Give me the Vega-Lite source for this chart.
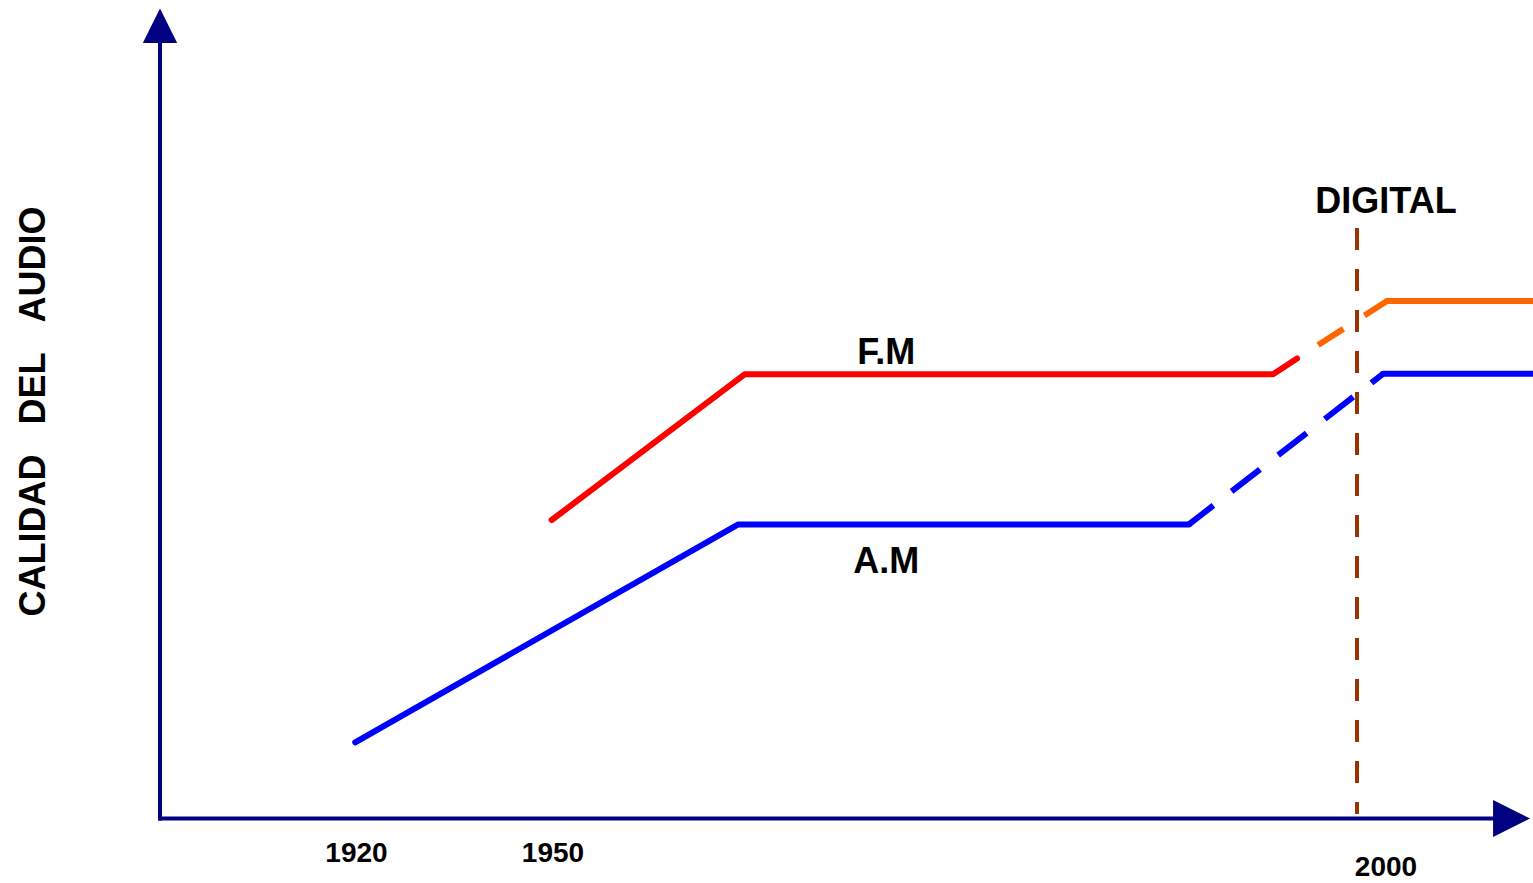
{
  "$schema": "https://vega.github.io/schema/vega-lite/v6.json",
  "width": 1533,
  "height": 883,
  "autosize": "none",
  "padding": 0,
  "background": "white",
  "config": {"view": {"stroke": null}, "text": {"font": "Liberation Sans", "fontWeight": "bold", "color": "black", "baseline": "alphabetic", "align": "center"}},
  "datasets": {
    "ejes": [
      {"eje": "x", "year": 1889.7, "year2": 2006.7, "q": 0, "q2": 0},
      {"eje": "y", "year": 1890, "year2": 1890, "q": -0.25, "q2": 96}
    ],
    "flechas": [
      {"eje": "x", "year": 2008.82, "q": 0},
      {"eje": "y", "year": 1890, "q": 100}
    ],
    "series": [
      {"serie": "AM_a", "year": 1919.8, "q": 9.41},
      {"serie": "AM_a", "year": 1961.12, "q": 36.3},
      {"serie": "AM_a", "year": 1988.17, "q": 36.3},
      {"serie": "AM_b", "year": 1988.17, "q": 36.3},
      {"serie": "AM_b", "year": 1999.82, "q": 54.9},
      {"serie": "AM_c", "year": 1999.82, "q": 54.9},
      {"serie": "AM_c", "year": 2009.5, "q": 54.9},
      {"serie": "FM_a", "year": 1949.8, "q": 36.85},
      {"serie": "FM_a", "year": 1961.52, "q": 54.85},
      {"serie": "FM_a", "year": 1993.22, "q": 54.85},
      {"serie": "FM_a", "year": 1994.66, "q": 56.79},
      {"serie": "FM_b", "year": 1994.66, "q": 56.79},
      {"serie": "FM_b", "year": 2000.06, "q": 63.89},
      {"serie": "FM_c", "year": 2000.06, "q": 63.89},
      {"serie": "FM_c", "year": 2009.5, "q": 63.89}
    ],
    "digital": [{"year": 1998.26, "q": 72.9, "q2": 0.56}],
    "rotulos": [
      {"label": "DIGITAL", "year": 2000, "q": 74.7},
      {"label": "F.M", "year": 1970, "q": 56.07},
      {"label": "A.M", "year": 1970, "q": 30.35}
    ],
    "anios": [
      {"label": "1920", "year": 1920, "q": -5.33},
      {"label": "1950", "year": 1950, "q": -5.33},
      {"label": "2000", "year": 2000, "q": -7.1}
    ],
    "titulo": [{"label": "CALIDAD\u00a0\u00a0\u00a0DEL\u00a0\u00a0\u00a0AUDIO", "year": 1872.44, "q": 50.25}]
  },
  "encoding": {
    "x": {"field": "year", "type": "quantitative", "axis": null,
      "scale": {"type": "linear", "domain": [1890, 1950, 2000, 2009], "range": [160, 553, 1386, 1533], "nice": false, "zero": false}},
    "y": {"field": "q", "type": "quantitative", "axis": null,
      "scale": {"domain": [0, 100], "range": [818.5, 8.5], "nice": false, "zero": false}}
  },
  "layer": [
    {
      "data": {"name": "digital"},
      "mark": {"type": "rule", "color": "#993300", "strokeWidth": 4, "strokeDash": [22, 19]},
      "encoding": {"y2": {"field": "q2"}}
    },
    {
      "data": {"name": "series"},
      "transform": [{"filter": "indexof(['AM_a','AM_c','FM_a','FM_c'], datum.serie) >= 0"}],
      "mark": {"type": "line", "strokeWidth": 6, "strokeCap": "round", "strokeJoin": "round"},
      "encoding": {
        "color": {"field": "serie", "type": "nominal", "legend": null,
          "scale": {"domain": ["AM_a", "AM_b", "AM_c", "FM_a", "FM_b", "FM_c"], "range": ["#0000FF", "#0000FF", "#0000FF", "#FF0000", "#FF6600", "#FF6600"]}}
      }
    },
    {
      "data": {"name": "series"},
      "transform": [{"filter": "datum.serie === 'AM_b'"}],
      "mark": {"type": "line", "strokeWidth": 6, "strokeCap": "butt", "strokeDash": [36, 23], "strokeDashOffset": 5},
      "encoding": {"color": {"field": "serie", "type": "nominal", "legend": null}}
    },
    {
      "data": {"name": "series"},
      "transform": [{"filter": "datum.serie === 'FM_b'"}],
      "mark": {"type": "line", "strokeWidth": 6, "strokeCap": "butt", "strokeDash": [30, 25], "strokeDashOffset": 30},
      "encoding": {"color": {"field": "serie", "type": "nominal", "legend": null}}
    },
    {
      "data": {"name": "ejes"},
      "mark": {"type": "rule", "color": "#000080", "strokeWidth": 4},
      "encoding": {"x2": {"field": "year2"}, "y2": {"field": "q2"}}
    },
    {
      "data": {"name": "flechas"},
      "transform": [{"filter": "datum.eje === 'x'"}],
      "mark": {"type": "point", "shape": "M 0 0 L -2 -1 L -2 1 Z", "size": 1369, "filled": true, "color": "#000080", "opacity": 1}
    },
    {
      "data": {"name": "flechas"},
      "transform": [{"filter": "datum.eje === 'y'"}],
      "mark": {"type": "point", "shape": "M 0 0 L -1 2 L 1 2 Z", "size": 1183, "filled": true, "color": "#000080", "opacity": 1}
    },
    {
      "data": {"name": "rotulos"},
      "mark": {"type": "text", "fontSize": 36},
      "encoding": {"text": {"field": "label"}}
    },
    {
      "data": {"name": "anios"},
      "mark": {"type": "text", "fontSize": 28},
      "encoding": {"text": {"field": "label"}}
    },
    {
      "data": {"name": "titulo"},
      "mark": {"type": "text", "fontSize": 36, "angle": -90},
      "encoding": {"text": {"field": "label"}}
    }
  ]
}
